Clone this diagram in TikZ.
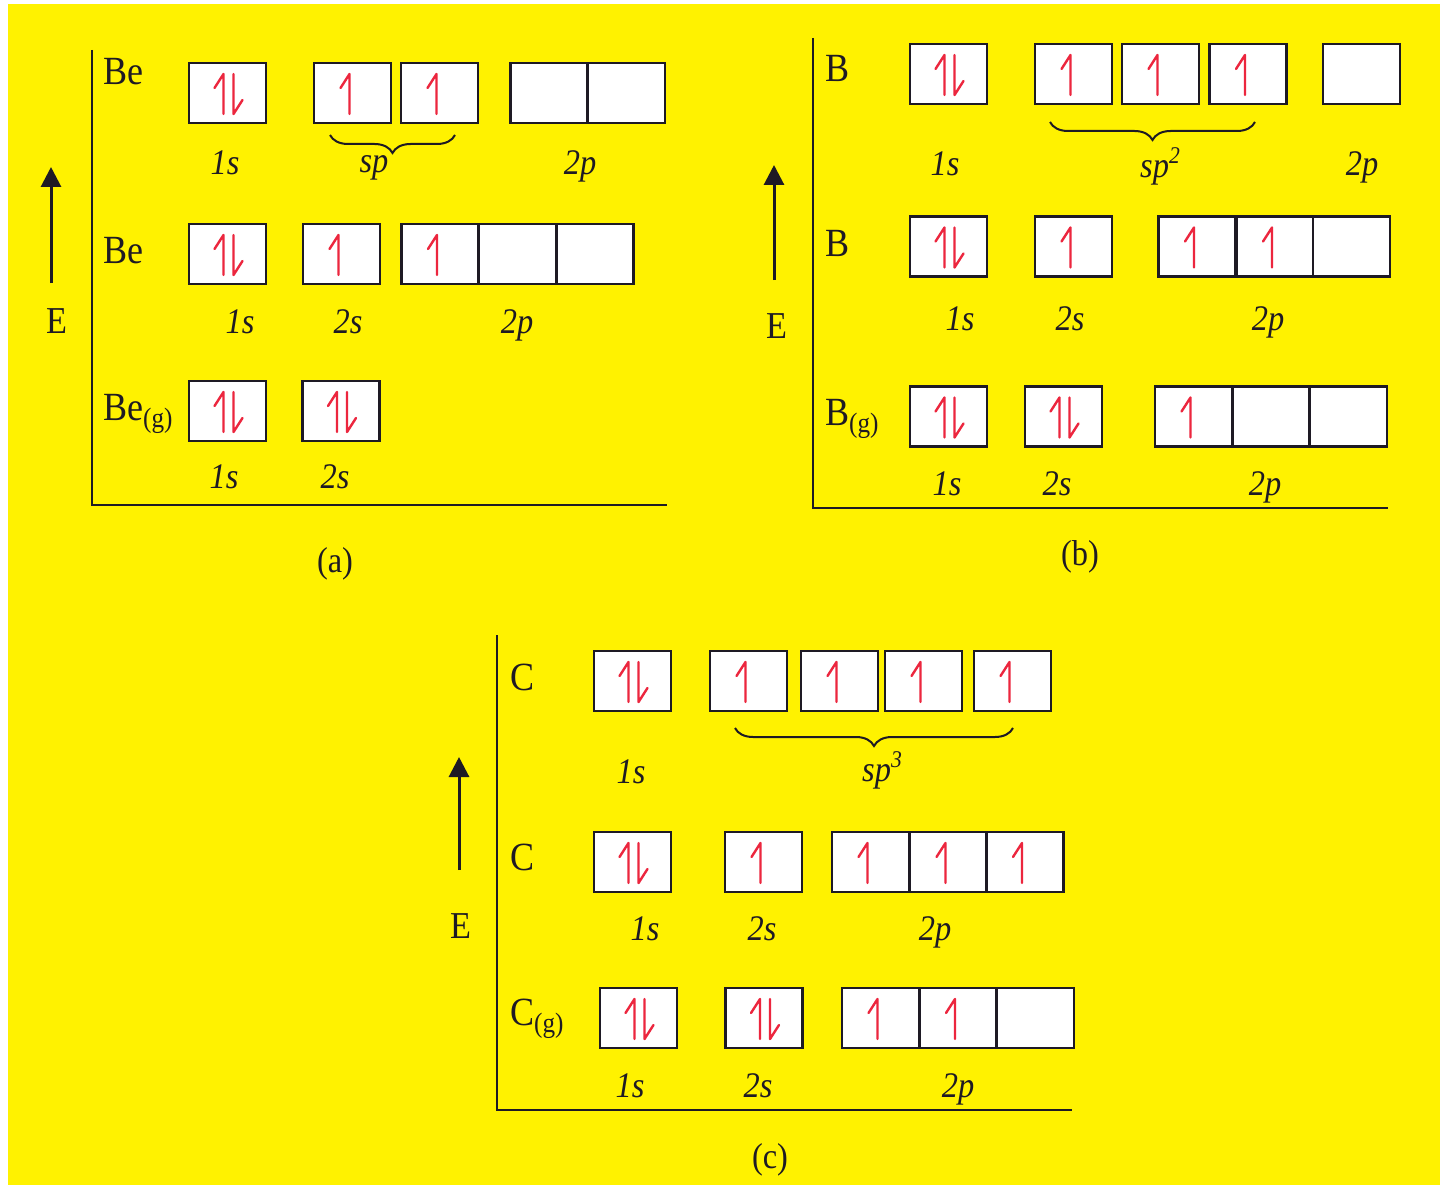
\documentclass[tikz,border=0pt]{standalone}
\usepackage{fontspec}
\setmainfont{Liberation Serif}[FakeStretch=0.9]
\usetikzlibrary{arrows.meta,decorations.pathreplacing}
\definecolor{bgyellow}{RGB}{255,242,0}
\definecolor{spin}{RGB}{236,38,62}
\definecolor{ink}{RGB}{30,26,36}
\begin{document}
\begin{tikzpicture}[x=1pt,y=-1pt,
  orb/.style={draw=ink,fill=white,line width=2.4pt,minimum width=77pt,minimum height=60pt,inner sep=0pt},
  elem/.style={anchor=base west,inner sep=0pt,text=ink,font=\fontsize{40}{40}\selectfont},
  lbl/.style={anchor=base,inner sep=0pt,text=ink,font=\fontsize{36}{36}\selectfont\itshape},
  panelcap/.style={anchor=base,inner sep=0pt,text=ink,font=\fontsize{36}{36}\selectfont},
  elab/.style={anchor=base,inner sep=0pt,text=ink,font=\fontsize{38}{38}\selectfont},
  axis/.style={draw=ink,line width=2.4pt},
  earrow/.style={draw=ink,line width=3pt,-{Triangle[width=20pt,length=20pt]}},
  spinline/.style={draw=spin,line width=2.4pt,line cap=round,line join=round},
  hbrace/.style={draw=ink,decorate,decoration={brace,mirror,amplitude=18pt},line width=2pt},
  eup/.pic={\draw[spinline] (-3,21) -- (-3,-19) -- (-12,-5);},
  epair/.pic={\draw[spinline] (-4,21) -- (-4,-19) -- (-13,-5);
              \draw[spinline] (6,-19) -- (6,21) -- (15,7);},
]
\newcommand\gas{\raisebox{-7pt}{\fontsize{28}{28}\selectfont(g)}}
\newcommand\hyb[1]{sp\raisebox{14pt}{\fontsize{24}{24}\selectfont #1}}
% page and background
\fill[white] (0,0) rectangle (1440,1185);
\fill[bgyellow] (8,4) rectangle (1440,1185);
\useasboundingbox (0,0) rectangle (1440,1185);

% ---------------- panel (a): beryllium ----------------
\coordinate (aTop) at (92,50);
\coordinate (aO) at (92,505);
\coordinate (aEnd) at (667,505);
\draw[axis] (aTop) -- (aO) -- (aEnd);
\coordinate (aE0) at (51,283);
\coordinate (aE1) at (51,167);
\draw[earrow] (aE0) -- (aE1);
\node[elab] (aE) at (57,333) {E};
% top row: sp hybrid
\node[elem] (aL1) at (103,85) {Be};
\node[orb] (a11s) at (227.5,93) {};
\node[orb] (a1h1) at (352.5,93) {};
\node[orb] (a1h2) at (439.5,93) {};
\node[orb] (a1p1) at (549,93) {};
\node[orb] (a1p2) at (626.5,93) {};
\pic at (a11s) {epair};
\pic at (a1h1) {eup};
\pic at (a1h2) {eup};
\coordinate (aB0) at (330,135);
\coordinate (aB1) at (455,135);
\draw[hbrace] (aB0) -- (aB1);
\node[lbl] (a1t1) at (225,175) {1s};
\node[lbl] (a1t2) at (374,173) {sp};
\node[lbl] (a1t3) at (580,175) {2p};
% middle row: promoted
\node[elem] (aL2) at (103,263) {Be};
\node[orb] (a21s) at (227.5,254) {};
\node[orb] (a22s) at (341.5,254) {};
\node[orb] (a2p1) at (440,254) {};
\node[orb] (a2p2) at (517.5,254) {};
\node[orb] (a2p3) at (595,254) {};
\pic at (a21s) {epair};
\pic at (a22s) {eup};
\pic at (a2p1) {eup};
\node[lbl] (a2t1) at (240,333) {1s};
\node[lbl] (a2t2) at (348,333) {2s};
\node[lbl] (a2t3) at (517,333) {2p};
% bottom row: ground state
\node[elem] (aL3) at (103,420) {Be\gas};
\node[orb] (a31s) at (227.5,411) {};
\node[orb] (a32s) at (341,411) {};
\pic at (a31s) {epair};
\pic at (a32s) {epair};
\node[lbl] (a3t1) at (224,488) {1s};
\node[lbl] (a3t2) at (335,488) {2s};
\node[panelcap] (capA) at (335,572) {(a)};

% ---------------- panel (b): boron ----------------
\coordinate (bTop) at (813,38);
\coordinate (bO) at (813,508);
\coordinate (bEnd) at (1388,508);
\draw[axis] (bTop) -- (bO) -- (bEnd);
\coordinate (bE0) at (774,280);
\coordinate (bE1) at (774,165);
\draw[earrow] (bE0) -- (bE1);
\node[elab] (bE) at (777,338) {E};
% top row: sp2 hybrid
\node[elem] (bL1) at (825,82) {B};
\node[orb] (b11s) at (948.5,74) {};
\node[orb] (b1h1) at (1073.5,74) {};
\node[orb] (b1h2) at (1160.5,74) {};
\node[orb] (b1h3) at (1248,74) {};
\node[orb] (b1p1) at (1361.5,74) {};
\pic at (b11s) {epair};
\pic at (b1h1) {eup};
\pic at (b1h2) {eup};
\pic at (b1h3) {eup};
\coordinate (bB0) at (1050,122);
\coordinate (bB1) at (1255,122);
\draw[hbrace] (bB0) -- (bB1);
\node[lbl] (b1t1) at (945,176) {1s};
\node[lbl] (b1t2) at (1160,178) {\hyb{2}};
\node[lbl] (b1t3) at (1362,176) {2p};
% middle row: promoted
\node[elem] (bL2) at (825,256) {B};
\node[orb] (b21s) at (948.5,246.5) {};
\node[orb] (b22s) at (1073.5,246.5) {};
\node[orb] (b2p1) at (1197,246.5) {};
\node[orb] (b2p2) at (1275,246.5) {};
\node[orb] (b2p3) at (1351.5,246.5) {};
\pic at (b21s) {epair};
\pic at (b22s) {eup};
\pic at (b2p1) {eup};
\pic at (b2p2) {eup};
\node[lbl] (b2t1) at (960,330) {1s};
\node[lbl] (b2t2) at (1070,330) {2s};
\node[lbl] (b2t3) at (1268,330) {2p};
% bottom row: ground state
\node[elem] (bL3) at (825,425) {B\gas};
\node[orb] (b31s) at (948.5,416.5) {};
\node[orb] (b32s) at (1063.5,416.5) {};
\node[orb] (b3p1) at (1193.5,416.5) {};
\node[orb] (b3p2) at (1271,416.5) {};
\node[orb] (b3p3) at (1348.5,416.5) {};
\pic at (b31s) {epair};
\pic at (b32s) {epair};
\pic at (b3p1) {eup};
\node[lbl] (b3t1) at (947,495) {1s};
\node[lbl] (b3t2) at (1057,495) {2s};
\node[lbl] (b3t3) at (1265,495) {2p};
\node[panelcap] (capB) at (1080,565) {(b)};

% ---------------- panel (c): carbon ----------------
\coordinate (cTop) at (497,635);
\coordinate (cO) at (497,1110);
\coordinate (cEnd) at (1072,1110);
\draw[axis] (cTop) -- (cO) -- (cEnd);
\coordinate (cE0) at (459,870);
\coordinate (cE1) at (459,757);
\draw[earrow] (cE0) -- (cE1);
\node[elab] (cE) at (461,938) {E};
% top row: sp3 hybrid
\node[elem] (cL1) at (510,690) {C};
\node[orb] (c11s) at (632.5,681) {};
\node[orb] (c1h1) at (748.5,681) {};
\node[orb] (c1h2) at (839.5,681) {};
\node[orb] (c1h3) at (923.5,681) {};
\node[orb] (c1h4) at (1012.5,681) {};
\pic at (c11s) {epair};
\pic at (c1h1) {eup};
\pic at (c1h2) {eup};
\pic at (c1h3) {eup};
\pic at (c1h4) {eup};
\coordinate (cB0) at (735,728);
\coordinate (cB1) at (1013,728);
\draw[hbrace] (cB0) -- (cB1);
\node[lbl] (c1t1) at (631,783) {1s};
\node[lbl] (c1t2) at (882,781) {\hyb{3}};
% middle row: promoted
\node[elem] (cL2) at (510,870) {C};
\node[orb] (c21s) at (632.5,862) {};
\node[orb] (c22s) at (763.5,862) {};
\node[orb] (c2p1) at (870.5,862) {};
\node[orb] (c2p2) at (948.5,862) {};
\node[orb] (c2p3) at (1025,862) {};
\pic at (c21s) {epair};
\pic at (c22s) {eup};
\pic at (c2p1) {eup};
\pic at (c2p2) {eup};
\pic at (c2p3) {eup};
\node[lbl] (c2t1) at (645,940) {1s};
\node[lbl] (c2t2) at (762,940) {2s};
\node[lbl] (c2t3) at (935,940) {2p};
% bottom row: ground state
\node[elem] (cL3) at (510,1025) {C\gas};
\node[orb] (c31s) at (638.5,1018) {};
\node[orb] (c32s) at (764,1018) {};
\node[orb] (c3p1) at (880.5,1018) {};
\node[orb] (c3p2) at (958,1018) {};
\node[orb] (c3p3) at (1035.5,1018) {};
\pic at (c31s) {epair};
\pic at (c32s) {epair};
\pic at (c3p1) {eup};
\pic at (c3p2) {eup};
\node[lbl] (c3t1) at (630,1097) {1s};
\node[lbl] (c3t2) at (758,1097) {2s};
\node[lbl] (c3t3) at (958,1097) {2p};
\node[panelcap] (capC) at (770,1168) {(c)};
\end{tikzpicture}
\end{document}
